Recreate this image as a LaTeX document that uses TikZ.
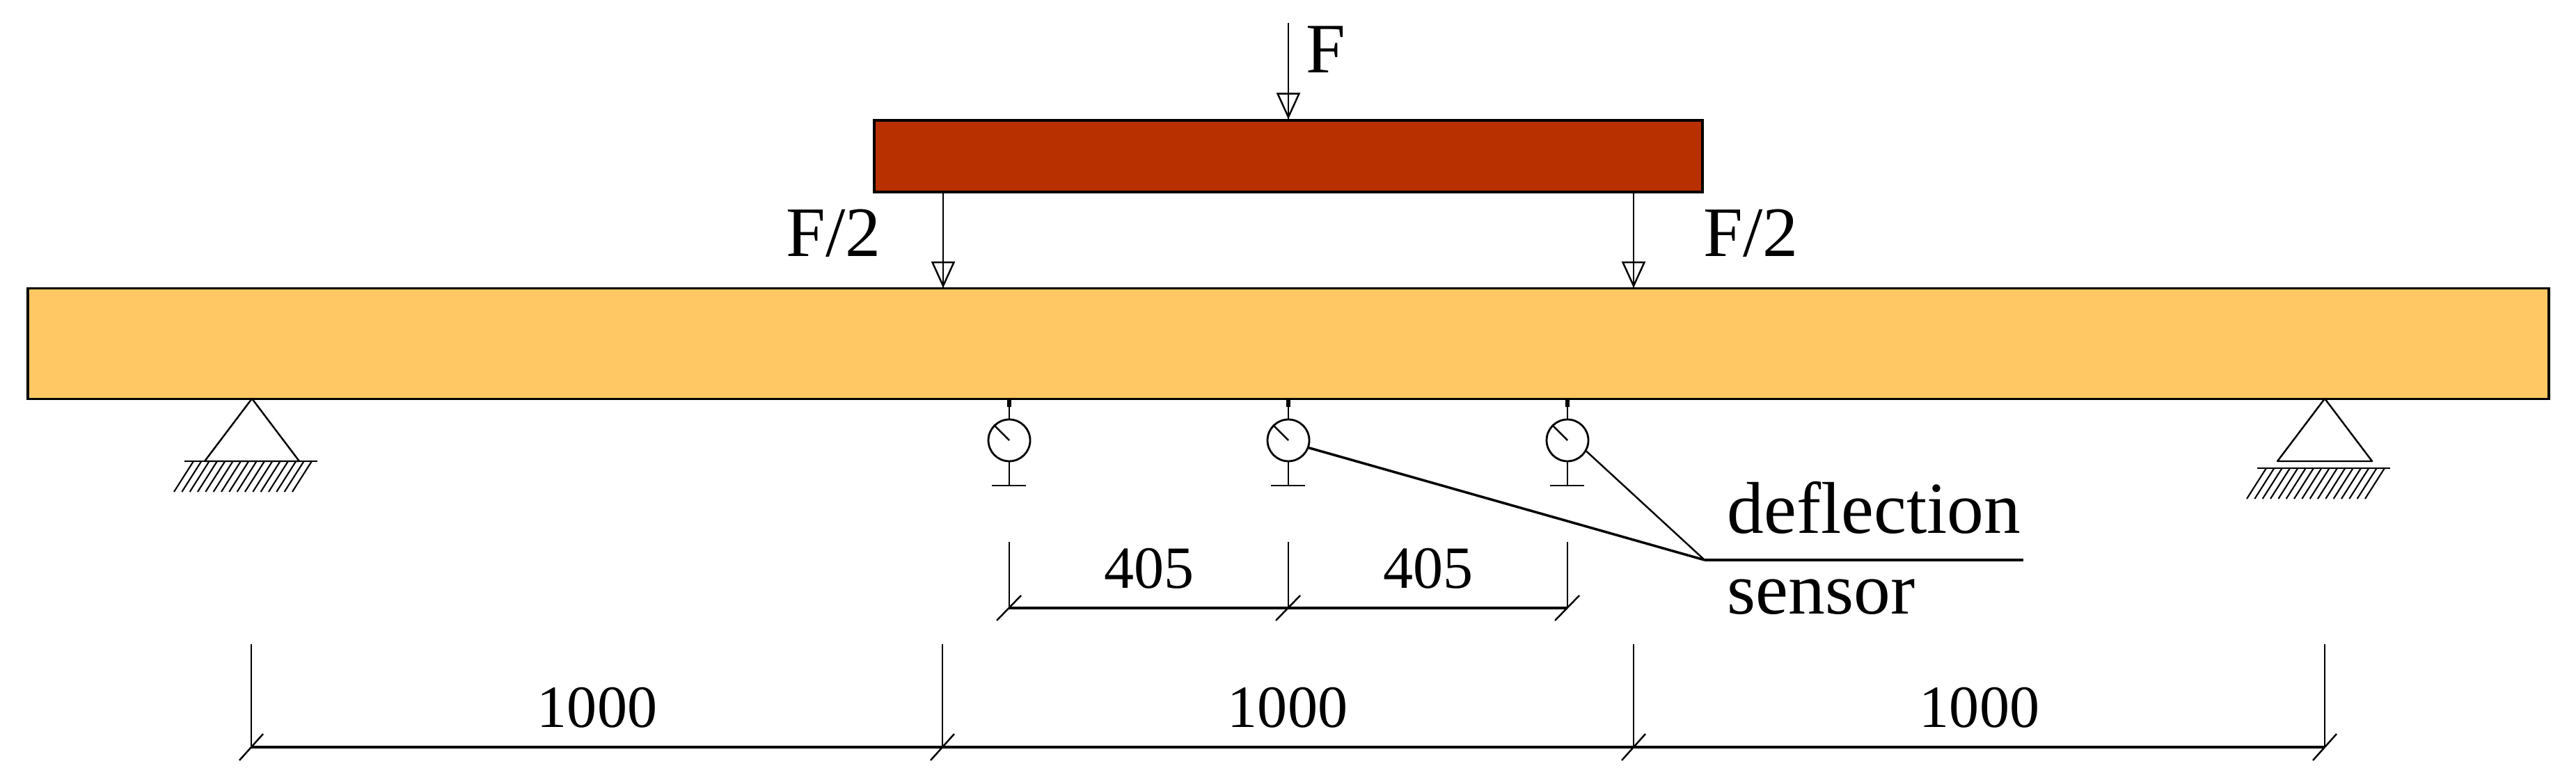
\documentclass[tikz,border=0pt]{standalone}
\usepackage{fontspec}
\usepackage{tikz}
\usetikzlibrary{arrows.meta}
\setmainfont{Liberation Serif}
\definecolor{beamfill}{RGB}{255,200,100}
\definecolor{platefill}{RGB}{184,48,0}

\tikzset{
  thinline/.style={black, line width=0.7},
  dimline/.style={black, line width=1.0},
  loadtip/.style={black, line width=0.7, -{Triangle[open, length=0.38cm, width=0.34cm]}},
  biglabel/.style={inner sep=0, font=\fontsize{29}{29}\selectfont},
  numlabel/.style={inner sep=0, anchor=base, font=\fontsize{24.5}{24.5}\selectfont}
}

\begin{document}
\begin{tikzpicture}[scale=1.0]

  \useasboundingbox (0, 0) rectangle (37.01, -11.04);

  % beam and plate
  \node[draw, fill=beamfill, line width=0.9, inner sep=0, minimum width=36.22cm, minimum height=1.59cm] (beam) at (18.51, -4.94) {};
  \node[draw, fill=platefill, line width=0.9, inner sep=0, minimum width=11.90cm, minimum height=1.03cm] (plate) at (18.51, -2.245) {};

  % loads
  \coordinate (topF) at (18.51, -0.33);
  \draw[thinline] (topF) -- (plate.north);
  \draw[loadtip] (topF) -- (plate.north);
  \foreach \name/\x in { loadL/13.55, loadR/23.47 } {
    \coordinate (\name top) at (\x, -2.76);
    \coordinate (\name end) at (\x, -4.14);
    \draw[thinline] (\name top) -- (\name end);
    \draw[loadtip] (\name top) -- (\name end);
  }
  \node[biglabel, anchor=base west] (labF) at (18.76, -1.05) { F };
  \node[biglabel, anchor=base west] (labL) at (11.29, -3.69) { F/2 };
  \node[biglabel, anchor=base west] (labR) at (24.47, -3.69) { F/2 };

  % supports
  \foreach \name/\x/\b/\g in { supL/3.62/-6.63/-6.63, supR/33.40/-6.63/-6.73 } {
    \coordinate (\name top) at (\x, -5.73);
    \coordinate (\name a) at (\x-0.68, \b);
    \coordinate (\name b) at (\x+0.68, \b);
    \draw[thinline, line join=round] (\name a) -- (\name top) -- (\name b) -- cycle;
    \draw[thinline] (\x-0.97, \g) -- (\x+0.94, \g);
    \foreach \k in { 0, 1, ..., 15 } {
      \draw[black, line width=0.6] (\x-0.84+\k*0.1133, \g) -- (\x-1.12+\k*0.1133, \g-0.44);
    }
  }

  % deflection sensors
  \foreach \name/\x in { sensA/14.50, sensB/18.51, sensC/22.52 } {
    \node[draw, circle, black, line width=0.8, inner sep=0, minimum size=0.60cm] (\name) at (\x, -6.33) {};
    \coordinate (\name top) at (\x, -5.73);
    \coordinate (\name foot) at (\x, -6.98);
    \draw[thinline] (\name top) -- (\name.north);
    \draw[black, line width=1.6] (\name top) -- ++(0, -0.12);
    \draw[thinline] (\name.south) -- (\name foot);
    \draw[thinline] (\x-0.25, -6.98) -- (\x+0.24, -6.98);
    \draw[thinline] (\name.center) -- (\name.135);
  }

  % leader lines
  \coordinate (leadA) at (24.49, -8.05);
  \coordinate (leadB) at (29.07, -8.05);
  \draw[dimline] (sensB.-20) -- (leadA);
  \draw[thinline] (sensC.-30) -- (leadA);
  \draw[dimline] (leadA) -- (leadB);
  \node[inner sep=0, anchor=base west, font=\fontsize{30}{30}\selectfont] (labDefl) at (24.81, -7.67) { deflection };
  \node[inner sep=0, anchor=base west, font=\fontsize{30}{30}\selectfont] (labSens) at (24.81, -8.83) { sensor };

  % short dimensions
  \foreach \name/\x in { dimA/14.50, dimB/18.51, dimC/22.52 } {
    \coordinate (\name top) at (\x, -7.79);
    \coordinate (\name) at (\x, -8.74);
    \draw[thinline, line width=0.6] (\name top) -- (\name);
    \draw[thinline] (\x-0.18, -8.92) -- (\x+0.17, -8.56);
  }
  \draw[dimline] (dimA) -- (dimB);
  \draw[dimline] (dimB) -- (dimC);
  \node[numlabel] (dimAB) at (16.51, -8.46) { 405 };
  \node[numlabel] (dimBC) at (20.52, -8.46) { 405 };

  % long dimensions
  \foreach \name/\x in { spanA/3.61, spanB/13.54, spanC/23.47, spanD/33.40 } {
    \coordinate (\name top) at (\x, -9.26);
    \coordinate (\name) at (\x, -10.74);
    \draw[thinline, line width=0.6] (\name top) -- (\name);
    \draw[thinline] (\x-0.17, -10.93) -- (\x+0.17, -10.55);
  }
  \draw[dimline] (spanA) -- (spanB);
  \draw[dimline] (spanB) -- (spanC);
  \draw[dimline] (spanC) -- (spanD);
  \node[numlabel] (spanAB) at (8.58, -10.46) { 1000 };
  \node[numlabel] (spanBC) at (18.50, -10.46) { 1000 };
  \node[numlabel] (spanCD) at (28.44, -10.46) { 1000 };

\end{tikzpicture}
\end{document}
